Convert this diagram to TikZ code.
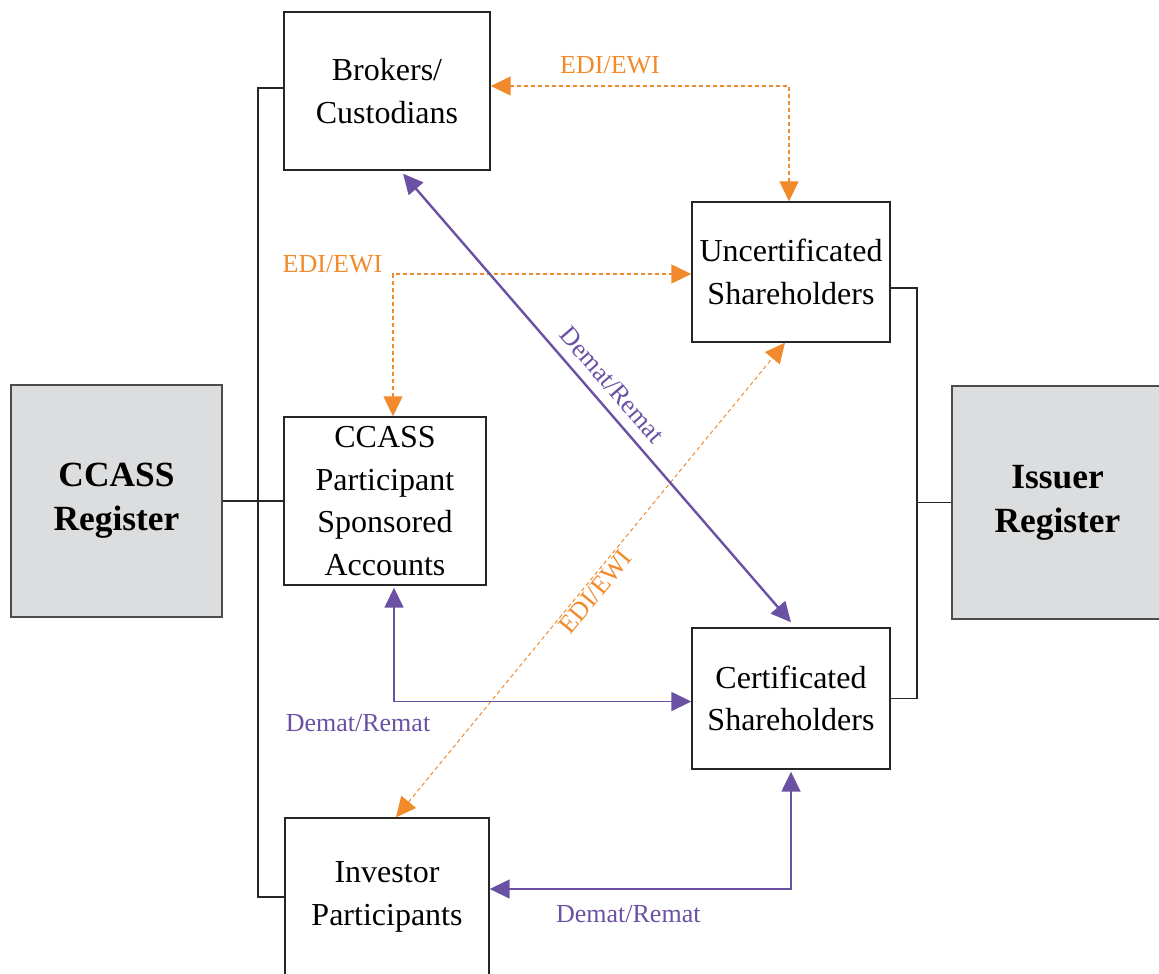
\documentclass[tikz,border=0pt]{standalone}
\usepackage{fontspec}
\setmainfont{Liberation Serif}
\usetikzlibrary{arrows.meta}

\definecolor{ediorange}{HTML}{F08A2B}
\definecolor{dematpurple}{HTML}{6A51A3}
\definecolor{regfill}{HTML}{DCDDDF}

\tikzset{
  box/.style={shape=rectangle,draw=black!85,line width=0.7pt,align=center,inner sep=0pt,
    font=\fontsize{16}{21.3}\selectfont},
  reg/.style={box,fill=regfill,draw=black!70,font=\fontsize{17.7}{22}\selectfont\bfseries},
  bus/.style={draw=black!85,line width=0.6pt},
  edi/.style={draw=ediorange,line width=0.7pt,dash pattern=on 2pt off 1.5pt,
    >={Triangle[length=10pt,width=9.5pt]},<->},
  demat/.style={draw=dematpurple,line width=0.8pt,>={Triangle[length=10pt,width=9.5pt]},<->},
  lbl/.style={font=\fontsize{13}{15}\selectfont,inner sep=1pt}
}

\begin{document}
\begin{tikzpicture}[x=0.5pt,y=-0.5pt]
\useasboundingbox (0,0) rectangle (1159,973);

\node[box,minimum width=103pt,minimum height=79pt] (BC) at (387,91) {Brokers/\\Custodians};
\node[box,minimum width=99pt,minimum height=70pt] (US) at (791,272) {Uncertificated\\Shareholders};
\node[box,minimum width=101pt,minimum height=84pt] (CP) at (385,501) {CCASS\\Participant\\Sponsored\\Accounts};
\node[box,minimum width=99pt,minimum height=70.5pt] (CS) at (791,698.5) {Certificated\\Shareholders};
\node[box,minimum width=102pt,minimum height=79pt] (IP) at (387,897) {Investor\\Participants};
\node[reg,minimum width=105.5pt,minimum height=116pt] (CR) at (116.5,501) {CCASS\\Register};
\node[reg,minimum width=105.5pt,minimum height=116.5pt] (IR) at (1057.5,502.5) {Issuer\\Register};

% left and right buses
\coordinate (LB) at (258,0);
\coordinate (RB) at (917,0);
\draw[bus] ([yshift=1.5pt]BC.west) -| (LB |- IP.west) -- (IP.west);
\draw[bus] (CR.east) -- (CR.east -| CP.west);
\draw[bus] ([yshift=-8pt]US.east) -| (RB |- CS.east) -- (CS.east);
\draw[bus] (RB |- IR.west) -- (IR.west);

% EDI/EWI
\draw[edi] ([yshift=2.5pt]BC.east) -| ([xshift=-1pt]US.north)
  node[lbl,pos=0.2,above=4.5pt,text=ediorange] {EDI/EWI};
\draw[edi] ([xshift=4pt]CP.north) |- ([yshift=-1pt]US.west)
  node[lbl,pos=0.5,left=4pt,yshift=5pt,text=ediorange] {EDI/EWI};
\draw[edi,line width=0.5pt] ([xshift=4.5pt]IP.north) -- ([xshift=-3pt]US.south)
  node[lbl,pos=0.49,sloped,below,text=ediorange] {EDI/EWI};

% Demat/Remat
\draw[demat,line width=1.2pt] ([xshift=8pt,yshift=-1.5pt]BC.south) -- ([yshift=2.5pt]CS.north)
  node[lbl,pos=0.5,sloped,above,inner sep=5pt,text=dematpurple] {Demat/Remat};
\draw[demat] ([xshift=4.5pt,yshift=-1pt]CP.south) |- ([yshift=-1.5pt]CS.west)
  node[lbl,pos=0.5,below=5pt,xshift=-18pt,text=dematpurple] {Demat/Remat};
\draw[demat] ([yshift=4pt]IP.east) -| ([yshift=-1pt]CS.south)
  node[lbl,pos=0.23,below=7pt,text=dematpurple] {Demat/Remat};
\end{tikzpicture}
\end{document}
